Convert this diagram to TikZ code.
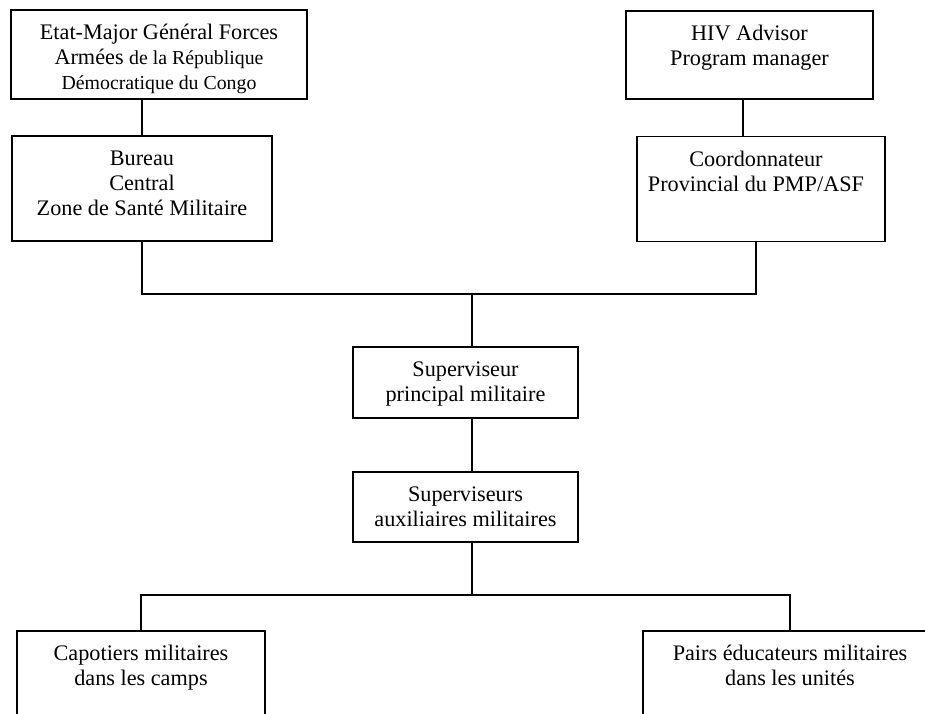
\documentclass[tikz,border=0pt]{standalone}
\usepackage{fontspec}
\setmainfont{Liberation Serif}
\usepackage{tikz}
\usetikzlibrary{positioning}

\newcommand{\toptext}[3]{\parbox[t][#2][t]{#1}{\centering\rule{0pt}{15.9pt}#3}}

\begin{document}
\begin{tikzpicture}[x=0.54pt, y=-0.54pt, line width=0.6pt, node distance=72.4pt]
    % Define styles
    \tikzstyle{orgbox} = [rectangle, draw=black, line width=0.7pt, inner sep=0pt, font=\fontsize{12}{13.5}\selectfont]

    \useasboundingbox (0,0) rectangle (925,713);
    \clip (0,0) rectangle (925,713);

    % Nodes
    \node[orgbox] (etat) at (159,54.5) {\toptext{159.8pt}{48.1pt}{Etat-Major Général Forces\\ Armées {\fontsize{10.7}{13.5}\selectfont de la République}\\ {\fontsize{10.7}{13.5}\selectfont Démocratique du Congo}}};
    \node[orgbox, below of=etat, xshift=-9.2pt] (bureau) {\toptext{140.4pt}{56.7pt}{Bureau\\ Central\\ Zone de Santé Militaire}};
    \node[orgbox] (hiv) at (749.5,55) {\toptext{133.4pt}{47.5pt}{HIV Advisor\\ Program manager}};
    \node[orgbox, below of=hiv, xshift=6.2pt] (coord) {\toptext{133.9pt}{56.7pt}{\hspace*{-5.4pt}Coordonnateur\\ \hspace*{-5.4pt}Provincial du PMP/ASF}};
    \node[orgbox] (superp) at (465.5,382.5) {\toptext{121.5pt}{38.3pt}{Superviseur\\ principal militaire}};
    \node[orgbox, below of=superp, node distance=67.2pt] (superaux) {\toptext{121.5pt}{37.8pt}{Superviseurs\\ auxiliaires militaires}};
    \node[orgbox] (capot) at (141,681) {\toptext{133.9pt}{54pt}{Capotiers militaires\\ dans les camps}};
    \node[orgbox] (pairs) at (790,681) {\toptext{158.8pt}{54pt}{Pairs éducateurs militaires\\ dans les unités}};

    \coordinate (topbus) at (472,294);
    \coordinate (lowbus) at (472,595);

    % Connections
    \draw (bureau.north) -- (bureau.north |- etat.south);
    \draw ([xshift=-3.5pt]hiv.south) -- ([xshift=-3.5pt]hiv.south |- coord.north);
    \draw (bureau.south) |- (topbus);
    \draw ([xshift=-2.7pt]coord.south) |- (topbus);
    \draw (topbus) -- (topbus |- superp.north);
    \draw (superp.south -| topbus) -- (superaux.north -| topbus);
    \draw (superaux.south -| lowbus) -- (lowbus);
    \draw (lowbus) -| (capot.north);
    \draw (lowbus) -| (pairs.north);
\end{tikzpicture}
\end{document}
